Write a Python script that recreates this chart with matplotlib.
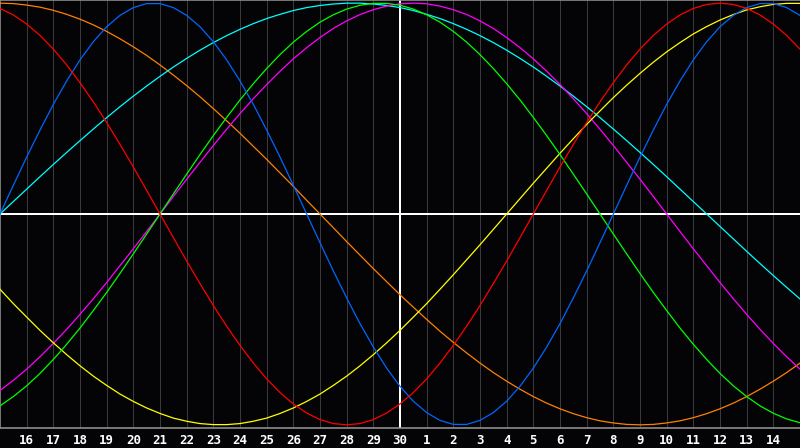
import matplotlib
matplotlib.use("Agg")
import matplotlib.pyplot as plt
import numpy as np

# day axis: index 0 = the 15th, index 30 = the 15th of next month
days = ["15", "16", "17", "18", "19", "20", "21", "22", "23", "24", "25", "26", "27", "28", "29",
        "30", "1", "2", "3", "4", "5", "6", "7", "8", "9", "10", "11", "12", "13", "14", "15"]

# curve values (percent, -100..100), every half day from index 0 to 30
blue = [0, 13.6, 27.0, 39.8, 52.0, 63.1, 73.1, 81.7, 88.8, 94.2, 97.9, 99.8, 99.8, 97.9, 94.2, 88.8,
        81.7, 73.1, 63.1, 52.0, 39.8, 27.0, 13.6, 0, -13.6, -27.0, -39.8, -52.0, -63.1, -73.1, -81.7,
        -88.8, -94.2, -97.9, -99.8, -99.8, -97.9, -94.2, -88.8, -81.7, -73.1, -63.1, -52.0, -39.8,
        -27.0, -13.6, 0, 13.6, 27.0, 39.8, 52.0, 63.1, 73.1, 81.7, 88.8, 94.2, 97.9, 99.8, 99.8,
        97.9, 94.2]
red = [97.5, 94.4, 90.1, 84.7, 78.2, 70.7, 62.3, 53.2, 43.4, 33.0, 22.3, 11.2, 0, -11.2, -22.3,
       -33.0, -43.4, -53.2, -62.3, -70.7, -78.2, -84.7, -90.1, -94.4, -97.5, -99.4, -100, -99.4,
       -97.5, -94.4, -90.1, -84.7, -78.2, -70.7, -62.3, -53.2, -43.4, -33.0, -22.3, -11.2, 0, 11.2,
       22.3, 33.0, 43.4, 53.2, 62.3, 70.7, 78.2, 84.7, 90.1, 94.4, 97.5, 99.4, 100, 99.4, 97.5, 94.4,
       90.1, 84.7, 78.2]
green = [-91.0, -86.6, -81.5, -75.6, -69.0, -61.8, -54.1, -45.8, -37.2, -28.2, -18.9, -9.5, 0, 9.5,
         18.9, 28.2, 37.2, 45.8, 54.1, 61.8, 69.0, 75.6, 81.5, 86.6, 91.0, 94.5, 97.2, 99.0, 99.9,
         99.9, 99.0, 97.2, 94.5, 91.0, 86.6, 81.5, 75.6, 69.0, 61.8, 54.1, 45.8, 37.2, 28.2, 18.9, 9.5,
         0, -9.5, -18.9, -28.2, -37.2, -45.8, -54.1, -61.8, -69.0, -75.6, -81.5, -86.6, -91.0, -94.5,
         -97.2, -99.0]
magenta = [-83.7, -78.9, -73.6, -67.7, -61.4, -54.7, -47.6, -40.2, -32.5, -24.5, -16.5, -8.3, 0, 8.3,
           16.5, 24.5, 32.5, 40.2, 47.6, 54.7, 61.4, 67.7, 73.6, 78.9, 83.7, 88.0, 91.6, 94.6, 96.9,
           98.6, 99.7, 100, 99.7, 98.6, 96.9, 94.6, 91.6, 88.0, 83.7, 78.9, 73.6, 67.7, 61.4, 54.7,
           47.6, 40.2, 32.5, 24.5, 16.5, 8.3, 0, -8.3, -16.5, -24.5, -32.5, -40.2, -47.6, -54.7, -61.4,
           -67.7, -73.6]
cyan = [0, 5.9, 11.8, 17.7, 23.5, 29.2, 34.8, 40.3, 45.7, 50.9, 55.9, 60.7, 65.3, 69.7, 73.8, 77.7,
        81.3, 84.6, 87.6, 90.3, 92.7, 94.7, 96.5, 97.9, 98.9, 99.6, 100, 100, 99.6, 98.9, 97.9, 96.5,
        94.7, 92.7, 90.3, 87.6, 84.6, 81.3, 77.7, 73.8, 69.7, 65.3, 60.7, 55.9, 50.9, 45.7, 40.3, 34.8,
        29.2, 23.5, 17.7, 11.8, 5.9, 0, -5.9, -11.8, -17.7, -23.5, -29.2, -34.8, -40.3]
orange = [100, 99.8, 99.1, 98.1, 96.6, 94.7, 92.4, 89.7, 86.6, 83.1, 79.3, 75.2, 70.7, 65.9, 60.9,
          55.6, 50.0, 44.2, 38.3, 32.1, 25.9, 19.5, 13.1, 6.5, 0, -6.5, -13.1, -19.5, -25.9, -32.1,
          -38.3, -44.2, -50.0, -55.6, -60.9, -65.9, -70.7, -75.2, -79.3, -83.1, -86.6, -89.7, -92.4,
          -94.7, -96.6, -98.1, -99.1, -99.8, -100, -99.8, -99.1, -98.1, -96.6, -94.7, -92.4, -89.7,
          -86.6, -83.1, -79.3, -75.2, -70.7]
yellow = [-35.7, -42.5, -48.9, -55.2, -61.1, -66.7, -72.0, -76.9, -81.3, -85.4, -88.9, -92.0, -94.6,
          -96.8, -98.3, -99.4, -99.9, -99.9, -99.4, -98.3, -96.8, -94.6, -92.0, -88.9, -85.4, -81.3,
          -76.9, -72.0, -66.7, -61.1, -55.2, -48.9, -42.5, -35.7, -28.8, -21.7, -14.6, -7.3, 0, 7.3,
          14.6, 21.7, 28.8, 35.7, 42.5, 48.9, 55.2, 61.1, 66.7, 72.0, 76.9, 81.3, 85.4, 88.9, 92.0,
          94.6, 96.8, 98.3, 99.4, 99.9, 99.9]

series = [
    (orange, "#ff8000"),
    (cyan, "#00ffff"),
    (magenta, "#ff00ff"),
    (yellow, "#ffff00"),
    (green, "#00ff00"),
    (blue, "#0066ff"),
    (red, "#ff0000"),
]

W, H = 800, 448
BG = "#040406"
fig = plt.figure(figsize=(W / 100, H / 100), dpi=100, facecolor=BG)
ax = fig.add_axes([0, 20 / H, 1, 428 / H])
ax.set_facecolor(BG)

xs = np.arange(len(blue)) * 0.5   # half-day sample positions
today = days.index("30")

# day grid
for i in range(1, len(days) - 1):
    if i != today:
        ax.axvline(i, color="#3a3a3e", lw=0.6, antialiased=False, zorder=1)

for vals, col in series:
    ax.plot(xs, vals, color=col, lw=0.9, zorder=3)

ax.axhline(0, color="white", lw=1.2, antialiased=False, zorder=2)
ax.axvline(today, color="white", lw=1.2, antialiased=False, zorder=2)

ax.set_xlim(0, len(days) - 1)
ax.set_ylim(-101.5, 101.5)

for side in ["left", "top", "bottom"]:
    ax.spines[side].set_color("#8c8c8c")
    ax.spines[side].set_linewidth(1.2)
ax.spines["right"].set_visible(False)

ax.set_yticks([])
ax.set_xticks(range(1, len(days) - 1))
ax.set_xticklabels(days[1:-1], family="DejaVu Sans Mono", fontweight="bold",
                   fontsize=9, color="white")
ax.tick_params(axis="x", length=0, pad=4)

fig.savefig("out.png", dpi=100, facecolor=fig.get_facecolor())
